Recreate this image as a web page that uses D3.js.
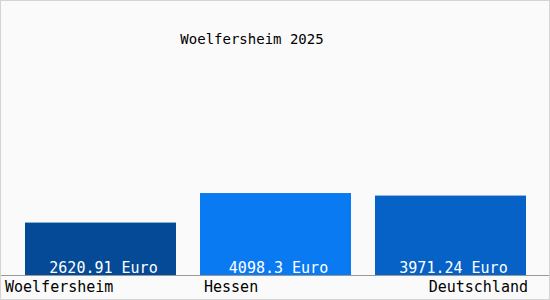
<!DOCTYPE html>
<html>
<head>
<meta charset="utf-8">
<script src="https://cdn.jsdelivr.net/npm/d3@7"></script>
<style>
  body { margin: 0; background: #fff; }
  text { font-family: "DejaVu Sans Mono", "Liberation Mono", monospace; }
</style>
</head>
<body>
<div id="chart"></div>
<script>
// data
const categories = ["Woelfersheim", "Hessen", "Deutschland"];
const values = [2620.91, 4098.3, 3971.24];
const unit = "Euro";
const barColors = ["#044a96", "#0a7af2", "#0662c6"];
const title = "Woelfersheim 2025";

const width = 550, height = 300;
const baseY = 275;

const svg = d3.select("#chart").append("svg")
  .attr("width", width)
  .attr("height", height);

// background + frame
svg.append("rect")
  .attr("x", 0.5).attr("y", 0.5)
  .attr("width", width - 1).attr("height", height - 1)
  .attr("fill", "#fafafa")
  .attr("stroke", "#d4d4d4");

// title
svg.append("text")
  .attr("x", 252).attr("y", 44)
  .attr("text-anchor", "middle")
  .style("font-size", "14px")
  .attr("fill", "#000")
  .text(title);

// scales
const xScale = d3.scaleBand()
  .domain(categories)
  .range([13, 538])
  .paddingInner(24 / 175)
  .paddingOuter(12 / 175);

const yScale = d3.scaleLinear()
  .domain([0, 5000])
  .range([baseY, baseY - 100]);

// bars
svg.selectAll("rect.bar")
  .data(values)
  .enter()
  .append("rect")
    .attr("class", "bar")
    .attr("x", (d, i) => xScale(categories[i]))
    .attr("y", d => yScale(d))
    .attr("width", xScale.bandwidth())
    .attr("height", d => baseY - yScale(d))
    .attr("fill", (d, i) => barColors[i]);

// value labels inside bars
svg.selectAll("text.val")
  .data(values)
  .enter()
  .append("text")
    .attr("class", "val")
    .attr("x", (d, i) => xScale(categories[i]) + xScale.bandwidth() / 2 + 3)
    .attr("y", baseY - 2)
    .attr("text-anchor", "middle")
    .attr("fill", "#fff")
    .style("font-size", "15px")
    .text(d => d + " " + unit);

// baseline
svg.append("line")
  .attr("x1", 1).attr("x2", width - 1)
  .attr("y1", baseY + 0.5).attr("y2", baseY + 0.5)
  .attr("stroke", "#999");

// category labels: first left, middle at bar start, last right
const anchors = ["start", "start", "end"];
svg.selectAll("text.cat")
  .data(categories)
  .enter()
  .append("text")
    .attr("class", "cat")
    .attr("x", (d, i) => i === 0 ? 5 : i === categories.length - 1 ? xScale(d) + xScale.bandwidth() + 2 : xScale(d) + 4)
    .attr("y", 292)
    .attr("text-anchor", (d, i) => anchors[i])
    .attr("fill", "#000")
    .style("font-size", "15px")
    .text(d => d);
</script>
</body>
</html>
